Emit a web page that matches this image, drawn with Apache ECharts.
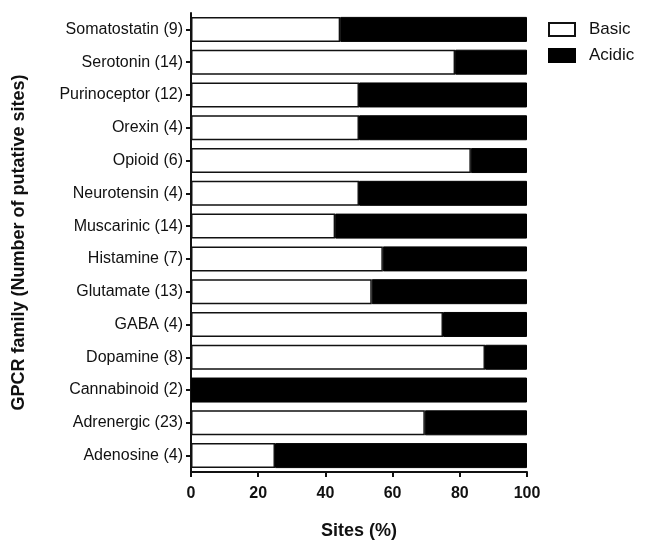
<!DOCTYPE html>
<html>
<head>
<meta charset="utf-8">
<script src="https://cdn.jsdelivr.net/npm/echarts@6/dist/echarts.min.js"></script>
<style>
  html, body { margin: 0; padding: 0; background: #fff; }
  #chart { width: 645px; height: 549px; }
</style>
</head>
<body>
<div id="chart"></div>
<script>
// bottom to top, as the category axis draws them
const families = ['Adenosine (4)', 'Adrenergic (23)', 'Cannabinoid (2)', 'Dopamine (8)', 'GABA (4)',
    'Glutamate (13)', 'Histamine (7)', 'Muscarinic (14)', 'Neurotensin (4)', 'Opioid (6)',
    'Orexin (4)', 'Purinoceptor (12)', 'Serotonin (14)', 'Somatostatin (9)'];
const basic = [25, 69.6, 0, 87.5, 75, 53.8, 57.1, 42.9, 50, 83.3, 50, 50, 78.6, 44.4];
const acidic = [75, 30.4, 100, 12.5, 25, 46.2, 42.9, 57.1, 50, 16.7, 50, 50, 21.4, 55.6];
const xTicks = [0, 20, 40, 60, 80, 100];

const font = 'Liberation Sans, Arial, sans-serif';
const chart = echarts.init(document.getElementById('chart'));

chart.setOption({
    animation: false,
    textStyle: { fontFamily: font, color: '#111' },
    legend: {
        orient: 'vertical',
        left: 543,
        top: 16,
        icon: 'rect',
        itemWidth: 26,
        itemHeight: 13,
        itemGap: 9,
        textStyle: { fontSize: 17, color: '#111', fontFamily: font, padding: [0, 0, 0, 9] },
        data: ['Basic', 'Acidic'],
    },
    grid: { left: 191, right: 118, top: 13, bottom: 77, containLabel: false, outerBoundsMode: 'none' },
    xAxis: {
        type: 'value',
        min: xTicks[0],
        max: xTicks[xTicks.length - 1],
        interval: 20,
        name: 'Sites (%)',
        nameLocation: 'middle',
        nameGap: 50,
        nameTextStyle: { fontSize: 18, fontWeight: 'bold', color: '#111' },
        axisLine: { show: true, lineStyle: { color: '#111', width: 2 } },
        axisTick: { show: true, length: 5, lineStyle: { color: '#111', width: 2 } },
        axisLabel: { fontSize: 16, fontWeight: 'bold', color: '#111', margin: 14 },
        splitLine: { show: false },
    },
    yAxis: {
        type: 'category',
        data: families,
        name: 'GPCR family (Number of putative sites)',
        nameLocation: 'middle',
        nameGap: 163,
        nameTextStyle: { fontSize: 18, fontWeight: 'bold', color: '#111' },
        axisLine: { show: true, lineStyle: { color: '#111', width: 2 } },
        axisTick: { show: true, alignWithLabel: true, length: 5, lineStyle: { color: '#111', width: 2 } },
        axisLabel: { fontSize: 16, color: '#111', margin: 8 },
    },
    series: [
        {
            name: 'Basic',
            type: 'bar',
            stack: 'sites',
            barWidth: 25,
            data: basic,
            itemStyle: { color: '#fff', borderColor: '#111', borderWidth: 1.5 },
        },
        {
            name: 'Acidic',
            type: 'bar',
            stack: 'sites',
            barWidth: 25,
            data: acidic,
            itemStyle: { color: '#000', borderColor: '#000', borderWidth: 1 },
        },
    ],
});
</script>
</body>
</html>
